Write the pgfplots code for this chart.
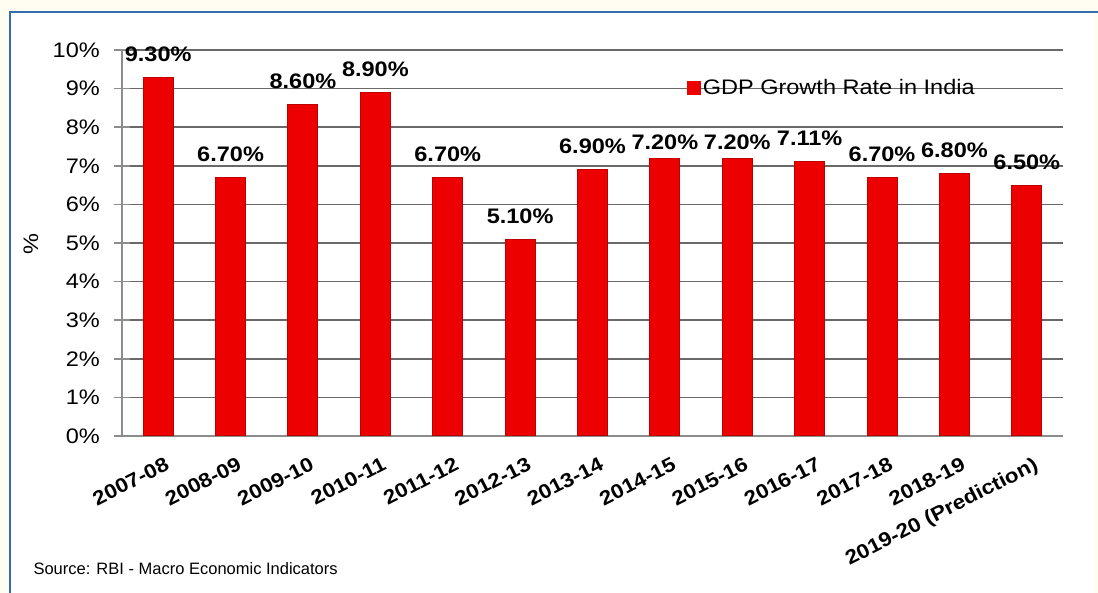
\documentclass[border=0pt]{standalone}
\usepackage{fontspec}
\setmainfont{Liberation Sans}[FakeStretch=1.12]
\newfontfamily\srcfont{Liberation Sans}
\usepackage{pgfplots}
\pgfplotsset{compat=1.18}
\definecolor{barred}{RGB}{236,0,0}
\definecolor{baredge}{RGB}{190,0,0}
\definecolor{gridc}{RGB}{105,105,105}
\definecolor{axc}{RGB}{140,140,140}
\definecolor{frameblue}{RGB}{50,110,170}
\definecolor{cream}{RGB}{255,252,242}
\begin{document}
\begin{tikzpicture}
\path[fill=cream,use as bounding box] (0,0) rectangle (1098pt,593pt);
\fill[white] (10pt,0) rectangle (1094pt,581pt);
\draw[frameblue,line width=2.5pt] (10pt,0) -- (10pt,581pt) -- (1098pt,581pt);
\begin{axis}[
  at={(122pt,157pt)}, anchor=south west,
  width=941pt, height=386pt, scale only axis,
  xmin=-0.5, xmax=12.5, ymin=0, ymax=10,
  ybar, bar width=30pt,
  axis x line*=bottom, axis y line*=left,
  axis line style={axc, line width=2.5pt,-},
  ymajorgrids, major grid style={gridc, line width=1.5pt},
  ytick={0,1,...,10},
  yticklabels={0\%,1\%,2\%,3\%,4\%,5\%,6\%,7\%,8\%,9\%,10\%},
  xtick={0,1,...,12},
  xticklabels={2007-08,2008-09,2009-10,2010-11,2011-12,2012-13,2013-14,2014-15,2015-16,2016-17,2017-18,2018-19,2019-20 (Prediction)},
  minor xtick={-0.5,0.5,...,12.5},
  xtick style={draw=none},
  minor x tick style={axc, line width=1.5pt},
  minor tick length=16pt,
  ytick style={axc, line width=1.5pt},
  major tick length=16pt,
  tick align=center,
  yticklabel style={font=\fontsize{21}{25}\selectfont, anchor=east, inner sep=0pt, xshift=-14pt},
  xticklabel style={font=\bfseries\fontsize{20}{24}\selectfont, inner sep=0pt, yshift=-12pt, xshift=6pt, rotate=27, anchor=north east},
  legend style={at={(0.6,0.9016)}, anchor=west, draw=none, fill=none, inner sep=0pt,
    font=\fontsize{21}{25}\selectfont},
  legend image code/.code={\fill[barred] (0pt,-6.5pt) rectangle (13pt,6.5pt);},
  point meta=explicit symbolic,
  nodes near coords,
  every node near coord/.append style={font=\bfseries\fontsize{21}{25}\selectfont, anchor=south, inner sep=0pt, yshift=15pt},
]
\addplot[bar shift=0pt, fill=barred, draw=baredge, line width=1pt] coordinates {
(0,9.3) [9.30\%]
(1,6.7) [6.70\%]
(2,8.6) [8.60\%]
(3,8.9) [8.90\%]
(4,6.7) [6.70\%]
(5,5.1) [5.10\%]
(6,6.9) [6.90\%]
(7,7.2) []
(8,7.2) []
(9,7.11) [7.11\%]
(10,6.7) [6.70\%]
(11,6.8) [6.80\%]
(12,6.5) [6.50\%]
};
\addlegendentry{GDP Growth Rate in India}
\addplot[bar shift=0pt, draw=none, fill=none, forget plot,
  every node near coord/.append style={yshift=-7pt}] coordinates {
(7,7.2) [7.20\%]
(8,7.2) [7.20\%]
};
\end{axis}
\node[rotate=90, font=\fontsize{21}{25}\selectfont] at (31pt,349pt) {\%};
\node[anchor=base west, font=\srcfont\fontsize{16.5}{20}\selectfont] at (30pt,18pt) {Source: RBI - Macro Economic Indicators};
\end{tikzpicture}
\end{document}
